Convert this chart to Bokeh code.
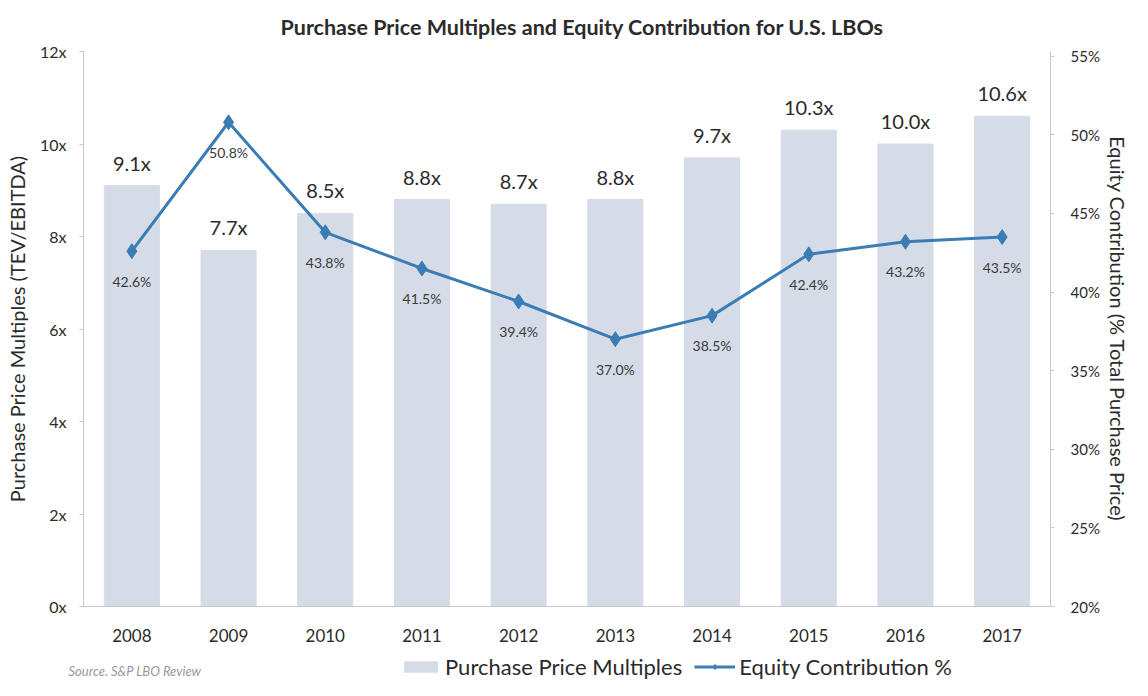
from bokeh.plotting import figure
from bokeh.layouts import column
from bokeh.models import (ColumnDataSource, Range1d, LinearAxis, FactorRange, Legend, LegendItem,
                          Label, FixedTicker, CustomJSTickFormatter)
from bokeh.core.properties import value
from bokeh.embed import file_html
from bokeh.resources import INLINE

years = ["2008", "2009", "2010", "2011", "2012", "2013", "2014", "2015", "2016", "2017"]
multiples = [9.1, 7.7, 8.5, 8.8, 8.7, 8.8, 9.7, 10.3, 10.0, 10.6]
equity_pct = [42.6, 50.8, 43.8, 41.5, 39.4, 37.0, 38.5, 42.4, 43.2, 43.5]
left_ticks = [0, 2, 4, 6, 8, 10, 12]
right_ticks = [20, 25, 30, 35, 40, 45, 50, 55]

FONT = "Lato"
BAR = "#D6DCE7"
LINE = "#3A7DB4"
TXT = "#2b2b2b"
W = 1132
H_MAIN = 648
H_LEG = 32

src = ColumnDataSource(dict(
    year=years, mult=multiples, pct=equity_pct,
    mult_lbl=[f"{v:.1f}x" for v in multiples],
    pct_lbl=[f"{v:.1f}%" for v in equity_pct],
))

p = figure(width=W, height=H_MAIN, x_range=FactorRange(*years), y_range=Range1d(0, 12),
           output_backend="svg", toolbar_location=None,
           min_border_left=83, min_border_right=77, min_border_top=48, min_border_bottom=42)
p.outline_line_color = None
p.grid.grid_line_color = None
p.background_fill_color = "white"
p.border_fill_color = "white"

p.title.text = "Purchase Price Multiples and Equity Contribution for U.S. LBOs"
p.title.align = "left"
p.title.offset = 197
p.title.text_font = FONT
p.title.text_font_style = "bold"
p.title.text_font_size = "21.5px"
p.title.text_color = TXT
p.title.standoff = 23

p.extra_y_ranges = {"pct": Range1d(20, 55.3)}

p.vbar(x="year", top="mult", width=0.57, source=src, color=BAR)
p.text(x="year", y="mult", text="mult_lbl", source=src, text_align="center",
       text_baseline="bottom", y_offset=-11, text_font=value(FONT), text_font_size="20px",
       text_color=TXT)

p.line(x="year", y="pct", source=src, y_range_name="pct", line_color=LINE, line_width=3)
p.scatter(x="year", y="pct", source=src, y_range_name="pct", marker="diamond",
          size=15, color=LINE)
p.text(x="year", y="pct", text="pct_lbl", source=src, y_range_name="pct", text_align="center",
       text_baseline="middle", y_offset=30, text_font=value(FONT), text_font_size="14px",
       text_color="#3a3a3a")

# left axis
ya = p.yaxis[0]
ya.ticker = FixedTicker(ticks=left_ticks)
ya.formatter = CustomJSTickFormatter(code="return tick + 'x';")
ya.axis_label = "Purchase Price Multiples (TEV/EBITDA)"
ya.axis_label_text_font = FONT
ya.axis_label_text_font_style = "normal"
ya.axis_label_text_font_size = "20px"
ya.axis_label_text_color = TXT
ya.axis_label_standoff = 8
ya.major_label_text_font = FONT
ya.major_label_text_font_size = "16px"
ya.major_label_text_color = TXT
ya.major_label_standoff = 13
ya.axis_line_color = "#C8C8C8"
ya.major_tick_line_color = "#C8C8C8"
ya.major_tick_out = 4
ya.major_tick_in = 0
ya.minor_tick_line_color = None

ra = LinearAxis(y_range_name="pct", ticker=FixedTicker(ticks=right_ticks),
                formatter=CustomJSTickFormatter(code="return tick + '%';"))
ra.axis_label = "Equity Contribution (% Total Purchase Price)"
ra.axis_label_text_font = FONT
ra.axis_label_text_font_style = "normal"
ra.axis_label_text_font_size = "20px"
ra.axis_label_text_color = TXT
ra.axis_label_standoff = 3
ra.major_label_text_font = FONT
ra.major_label_text_font_size = "15px"
ra.major_label_text_color = TXT
ra.major_label_standoff = 16
ra.axis_line_color = "#C8C8C8"
ra.major_tick_line_color = "#C8C8C8"
ra.major_tick_out = 4
ra.major_tick_in = 0
ra.minor_tick_line_color = None
p.add_layout(ra, "right")

xa = p.xaxis[0]
xa.major_label_text_font = FONT
xa.major_label_text_font_size = "17px"
xa.major_label_text_color = TXT
xa.major_label_standoff = 16
xa.axis_line_color = "#C8C8C8"
xa.major_tick_line_color = None
xa.minor_tick_line_color = None

# legend strip below the chart (its frame spans the full width)
q = figure(width=W, height=H_LEG, x_range=Range1d(0, 1), y_range=Range1d(0, 1),
           output_backend="svg", toolbar_location=None, x_axis_type=None, y_axis_type=None,
           min_border_left=0, min_border_right=0, min_border_top=0, min_border_bottom=0)
q.frame_align = False
q.outline_line_color = None
q.grid.grid_line_color = None
# legend swatches: renderers kept outside the strip's visible range
hidden = ColumnDataSource(dict(x=[5], y=[5]))
lg_bar = q.vbar(x="x", top="y", width=0.5, source=hidden, color=BAR)
lg_line = q.line(x="x", y="y", source=hidden, line_color=LINE, line_width=3)
lg_mark = q.scatter(x="x", y="y", source=hidden, marker="diamond", size=13, color=LINE)

legend = Legend(items=[LegendItem(label="Purchase Price Multiples", renderers=[lg_bar]),
                       LegendItem(label="Equity Contribution %", renderers=[lg_line, lg_mark])],
                orientation="horizontal", location=(400, 0),
                label_text_font=FONT, label_text_font_size="22px", label_text_color=TXT,
                glyph_width=41, glyph_height=13, spacing=12, label_standoff=4,
                background_fill_alpha=0, border_line_color=None, padding=0, margin=0)
q.add_layout(legend)
q.add_layout(Label(x=68, y=2, x_units="screen", y_units="screen", text="Source. S&P LBO Review",
                   text_font=FONT, text_font_style="italic", text_font_size="13px",
                   text_baseline="bottom", text_color="#999999"))

layout = column(p, q, spacing=0)
open("out.html", "w").write(file_html(layout, INLINE))
